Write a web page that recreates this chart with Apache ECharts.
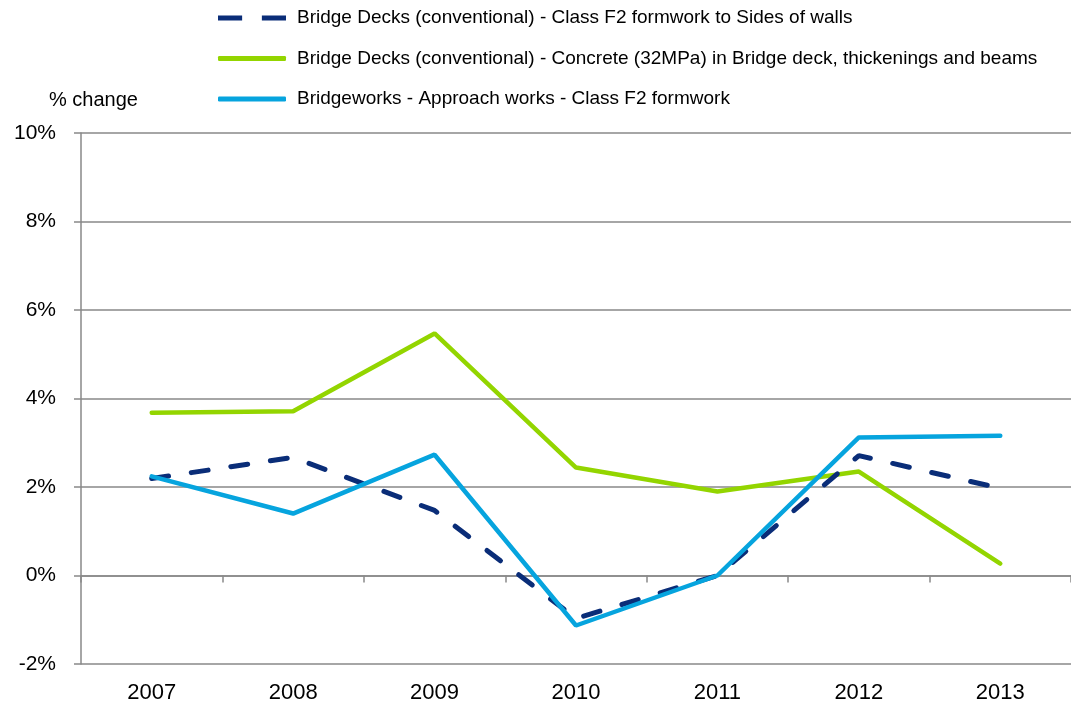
<!DOCTYPE html>
<html>
<head>
<meta charset="utf-8">
<script src="https://cdn.jsdelivr.net/npm/echarts@6/dist/echarts.min.js"></script>
<style>
  html, body { margin: 0; padding: 0; background: #fff; }
  #main { width: 1071px; height: 712px; }
</style>
</head>
<body>
<div id="main"></div>
<script>
var years = ['2007', '2008', '2009', '2010', '2011', '2012', '2013'];
var sidesOfWalls = [2.19, 2.67, 1.47, -0.97, 0.0, 2.71, 1.97];
var concreteDeck = [3.68, 3.71, 5.47, 2.44, 1.90, 2.35, 0.27];
var approachWorks = [2.24, 1.40, 2.73, -1.13, 0.0, 3.12, 3.16];
var seriesNames = [
    'Bridge Decks (conventional) - Class F2 formwork to Sides of walls',
    'Bridge Decks (conventional) - Concrete (32MPa) in Bridge deck, thickenings and beams',
    'Bridgeworks - Approach works - Class F2 formwork'
];

function getChart(){
    var dom = document.getElementById("main");
    var myChart = echarts.init(dom);
    var font = 'Liberation Sans';
    var axisGray = '#898989';
    var option = {
        animation: false,
        title: {
            text: '% change',
            left: 44,
            top: 85,
            textStyle: { fontFamily: font, fontSize: 20, fontWeight: 'normal', color: '#000' }
        },
        legend: {
            orient: 'vertical',
            left: 213,
            top: 3,
            itemGap: 20.5,
            itemWidth: 68,
            itemHeight: 5,
            symbolKeepAspect: false,
            textStyle: { fontFamily: font, fontSize: 19, lineHeight: 20, color: '#000', padding: [0, 0, 0, 6] },
            data: [
                { name: seriesNames[0], icon: 'path://M0,0H22V1H0Z M40,0H62V1H40Z' },
                { name: seriesNames[1], icon: 'roundRect' },
                { name: seriesNames[2], icon: 'roundRect' }
            ]
        },
        grid: {
            left: 81,
            right: 0,
            top: 133,
            bottom: 48,
            outerBoundsMode: 'none',
            containLabel: false
        },
        xAxis: [
            {
                // labels along the bottom, like Excel's "low" label position
                type: 'category',
                data: years,
                position: 'bottom',
                boundaryGap: true,
                axisLine: { show: false, onZero: false },
                axisTick: { show: false },
                axisLabel: { margin: 18, fontFamily: font, fontSize: 22, color: '#000' }
            },
            {
                // the 0% axis line with its ticks
                type: 'category',
                data: years,
                position: 'bottom',
                boundaryGap: true,
                axisLine: { show: true, onZero: true, lineStyle: { color: axisGray, width: 1.5 } },
                axisTick: { show: true, length: 7, lineStyle: { color: axisGray, width: 1.5 } },
                axisLabel: { show: false }
            }
        ],
        yAxis: {
            type: 'value',
            min: -2,
            max: 10,
            interval: 2,
            axisLine: { show: true, lineStyle: { color: axisGray, width: 1.5 } },
            axisTick: { show: true, length: 7, lineStyle: { color: axisGray, width: 1.5 } },
            axisLabel: {
                margin: 25,
                fontFamily: font, fontSize: 21, color: '#000',
                formatter: function (v) { return v + '%'; }
            },
            splitLine: { show: true, lineStyle: { color: axisGray, width: 1.5 } }
        },
        series: [
            {
                name: seriesNames[0],
                type: 'line',
                data: sidesOfWalls,
                symbol: 'none',
                z: 3,
                lineStyle: { color: '#0a2d78', width: 5, type: [17, 23], cap: 'round' },
                itemStyle: { color: '#0a2d78' }
            },
            {
                name: seriesNames[1],
                type: 'line',
                data: concreteDeck,
                symbol: 'none',
                z: 2,
                lineStyle: { color: '#93d500', width: 4.5, cap: 'round' },
                itemStyle: { color: '#93d500' }
            },
            {
                name: seriesNames[2],
                type: 'line',
                data: approachWorks,
                symbol: 'none',
                z: 4,
                lineStyle: { color: '#06a4de', width: 4.5, cap: 'round' },
                itemStyle: { color: '#06a4de' }
            }
        ]
    };
    if (option && typeof option === "object") {
        myChart.setOption(option, true);
    }
}
getChart();
</script>
</body>
</html>
